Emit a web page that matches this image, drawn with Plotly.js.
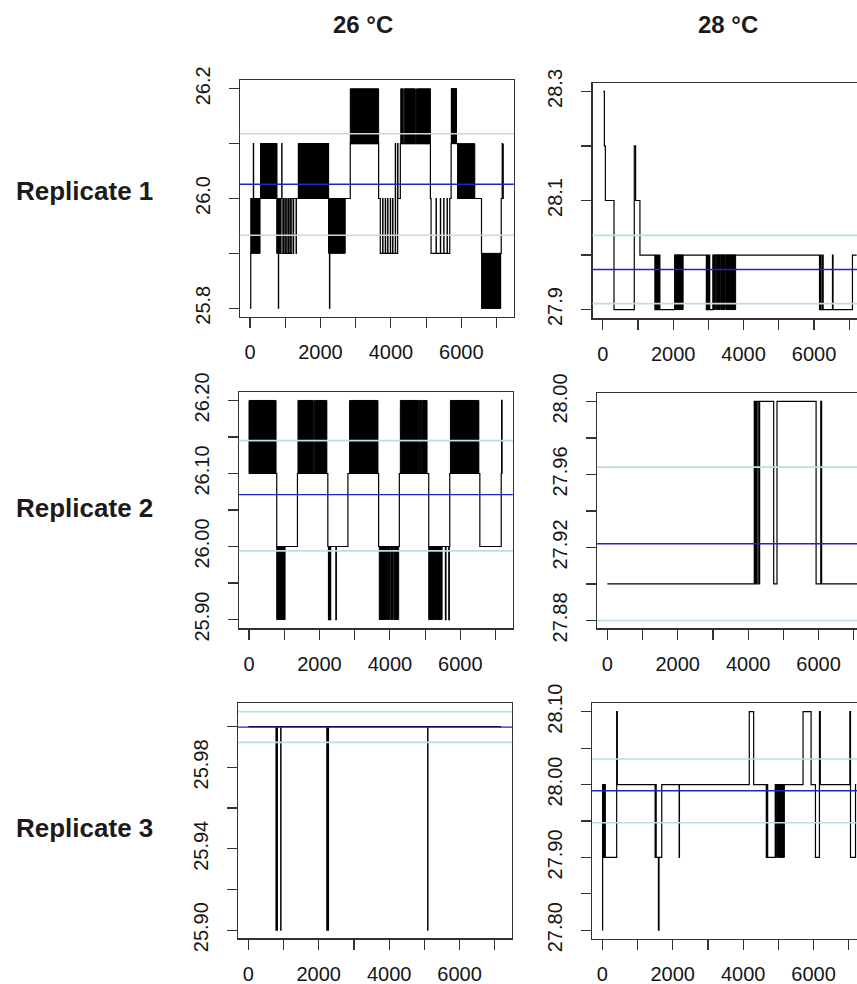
<!DOCTYPE html>
<html><head><meta charset="utf-8">
<script src="https://cdn.plot.ly/plotly-3.0.1.min.js"></script>
<style>html,body{margin:0;padding:0;overflow:hidden;background:#fff}#chart{width:900px;height:984px}</style>
</head><body><div id="chart"></div>
<script>
// ---------------- DATA ----------------
const columnTitles = ['26 °C', '28 °C'];
const rowTitles = ['Replicate 1', 'Replicate 2', 'Replicate 3'];

const xTickVals = [0, 1000, 2000, 3000, 4000, 5000, 6000, 7000];
const xTickText = ['0', '', '2000', '', '4000', '', '6000', ''];

// Replicate 1, 26 °C : step change points (time, temperature)
const r1_26_time = [0, 20, 28, 95, 102, 304, 759, 806, 812, 860, 901, 908, 949, 955, 996, 1003, 1043, 1050, 1091, 1098, 1138, 1145, 1186, 1233, 1238, 1309, 1316, 1375, 2229, 2257, 2265, 2272, 2846, 3652, 3671, 3699, 3766, 3775, 3841, 3850, 3908, 3916, 3984, 3992, 4050, 4058, 4126, 4133, 4192, 4200, 4268, 5122, 5141, 5283, 5290, 5406, 5413, 5501, 5508, 5596, 5603, 5672, 5710, 5720, 5861, 5899, 6383, 6573, 6580, 7114, 7133, 7161, 7170, 7190];
const r1_26_temp = [25.8, 25.9, 26.0, 26.1, 26.0, 26.1, 26.0, 25.8, 25.9, 26.0, 26.1, 25.9, 26.0, 25.9, 26.0, 25.9, 26.0, 25.9, 26.0, 25.9, 26.0, 25.9, 26.0, 25.9, 26.0, 25.9, 26.0, 26.1, 26.0, 25.8, 25.9, 26.0, 26.1, 26.0, 26.0, 25.9, 26.0, 25.9, 26.0, 25.9, 26.0, 25.9, 26.0, 25.9, 26.0, 25.9, 26.1, 25.9, 26.1, 26.0, 26.1, 26.0, 25.9, 26.0, 25.9, 26.0, 25.9, 26.0, 25.9, 26.0, 25.9, 26.0, 26.1, 26.2, 26.1, 26.0, 26.0, 25.9, 25.8, 25.9, 26.0, 26.1, 26.0, 26.1];
// dense oscillation blocks (from, to, low, high)
const r1_26_denseFrom = [28, 304, 759, 1375, 2229, 2846, 4280, 4378, 4705, 4755, 5720, 5899, 6580];
const r1_26_denseTo   = [285, 759, 860, 2229, 2703, 3652, 4350, 4685, 4730, 5122, 5861, 6383, 7114];
const r1_26_denseLow  = [25.9, 26.0, 25.9, 26.0, 25.9, 26.1, 26.1, 26.1, 26.1, 26.1, 26.1, 26.0, 25.8];
const r1_26_denseHigh = [26.0, 26.1, 26.0, 26.1, 26.0, 26.2, 26.2, 26.2, 26.2, 26.2, 26.2, 26.1, 25.9];

// Replicate 1, 28 °C
const r1_28_time = [19, 47, 75, 321, 896, 934, 1057, 1481, 1500, 1528, 1545, 1575, 1595, 1623, 2047, 2943, 2960, 2991, 3010, 3038, 3132, 6156, 6180, 6200, 6241, 6260, 6524, 6540, 7091, 7210];
const r1_28_temp = [28.3, 28.2, 28.1, 27.9, 28.2, 28.1, 28.0, 27.9, 28.0, 27.9, 28.0, 27.9, 28.0, 27.9, 28.0, 27.9, 28.0, 27.9, 28.0, 27.9, 28.0, 27.9, 28.0, 27.9, 28.0, 27.9, 28.0, 27.9, 28.0, 28.0];
const r1_28_denseFrom = [2047, 3132, 3225, 3350, 3500];
const r1_28_denseTo   = [2283, 3200, 3330, 3480, 3774];
const r1_28_denseLow  = [27.9, 27.9, 27.9, 27.9, 27.9];
const r1_28_denseHigh = [28.0, 28.0, 28.0, 28.0, 28.0];

// Replicate 2, 26 °C
const r2_26_time = [0, 787, 1375, 2238, 2257, 2275, 2300, 2318, 2466, 2480, 2808, 3680, 4268, 5103, 5577, 5592, 5672, 5688, 5700, 6554, 7161, 7172, 7185, 7195];
const r2_26_temp = [26.1, 26.0, 26.1, 26.0, 25.9, 26.0, 25.9, 26.0, 25.9, 26.0, 26.1, 26.0, 26.1, 26.0, 25.9, 26.0, 25.9, 26.0, 26.1, 26.0, 26.1, 26.2, 26.1, 26.1];
const r2_26_denseFrom = [0, 787, 1390, 1840, 1890, 2855, 3699, 3930, 4025, 4120, 4297, 4830, 4925, 5103, 5300, 5395, 5719];
const r2_26_denseTo   = [768, 1024, 1820, 1870, 2210, 3661, 3905, 4000, 4095, 4249, 4810, 4905, 5055, 5285, 5380, 5482, 6526];
const r2_26_denseLow  = [26.1, 25.9, 26.1, 26.1, 26.1, 26.1, 25.9, 25.9, 25.9, 25.9, 26.1, 26.1, 26.1, 25.9, 25.9, 25.9, 26.1];
const r2_26_denseHigh = [26.2, 26.0, 26.2, 26.2, 26.2, 26.2, 26.0, 26.0, 26.0, 26.0, 26.2, 26.2, 26.2, 26.0, 26.0, 26.0, 26.2];

// Replicate 2, 28 °C
const r2_28_time = [0, 4173, 4195, 4215, 4235, 4255, 4300, 4325, 4724, 4818, 5928, 6060, 6085, 7210];
const r2_28_temp = [27.9, 28.0, 27.9, 28.0, 27.9, 28.0, 27.9, 28.0, 27.9, 28.0, 27.9, 28.0, 27.9, 27.9];
const r2_28_denseFrom = [];
const r2_28_denseTo   = [];
const r2_28_denseLow  = [];
const r2_28_denseHigh = [];

// Replicate 3, 26 °C
const r3_26_time = [0, 787, 800, 812, 825, 920, 928, 2229, 2250, 2262, 2276, 5093, 5100, 7180];
const r3_26_temp = [26.0, 25.9, 26.0, 25.9, 26.0, 25.9, 26.0, 25.9, 26.0, 25.9, 26.0, 25.9, 26.0, 26.0];
const r3_26_denseFrom = [];
const r3_26_denseTo   = [];
const r3_26_denseLow  = [];
const r3_26_denseHigh = [];

// Replicate 3, 28 °C
const r3_28_time = [0, 9, 28, 40, 55, 70, 85, 408, 427, 1499, 1515, 1530, 1593, 1610, 1688, 2182, 2190, 4173, 4297, 4657, 4670, 4695, 4913, 5169, 5700, 5928, 6052, 6165, 6190, 7028, 7047, 7190, 7210];
const r3_28_temp = [27.8, 28.0, 27.9, 28.0, 27.9, 28.0, 27.9, 28.1, 28.0, 27.9, 28.0, 27.9, 27.8, 27.9, 28.0, 27.9, 28.0, 28.1, 28.0, 27.9, 28.0, 27.9, 28.0, 28.0, 28.1, 28.0, 27.9, 28.1, 28.0, 28.1, 27.9, 28.0, 28.0];
const r3_28_denseFrom = [4913, 4975];
const r3_28_denseTo   = [4950, 5169];
const r3_28_denseLow  = [27.9, 27.9];
const r3_28_denseHigh = [28.0, 28.0];

// mean and mean ± sd lines, panel order r1_26, r1_28, r2_26, r2_28, r3_26, r3_28
const meanTemp  = [26.026, 27.9735, 26.071, 27.922, 25.9998, 27.9915];
const sdLowTemp = [25.933, 27.911, 25.994, 27.880, 25.9923, 27.9475];
const sdHighTemp= [26.118, 28.036, 26.145, 27.964, 26.0074, 28.035];

// y tick values / labels
const r1_26_yTicks = [25.8, 25.9, 26.0, 26.1, 26.2];
const r1_26_yText  = ['25.8', '', '26.0', '', '26.2'];
const r1_28_yTicks = [27.9, 28.0, 28.1, 28.2, 28.3];
const r1_28_yText  = ['27.9', '', '28.1', '', '28.3'];
const r2_26_yTicks = [25.9, 25.95, 26.0, 26.05, 26.1, 26.15, 26.2];
const r2_26_yText  = ['25.90', '', '26.00', '', '26.10', '', '26.20'];
const r2_28_yTicks = [27.88, 27.90, 27.92, 27.94, 27.96, 27.98, 28.00];
const r2_28_yText  = ['27.88', '', '27.92', '', '27.96', '', '28.00'];
const r3_26_yTicks = [25.90, 25.92, 25.94, 25.96, 25.98, 26.00];
const r3_26_yText  = ['25.90', '', '25.94', '', '25.98', ''];
const r3_28_yTicks = [27.80, 27.85, 27.90, 27.95, 28.00, 28.05, 28.10];
const r3_28_yText  = ['27.80', '', '27.90', '', '28.00', '', '28.10'];

// ---------------- LAYOUT ----------------
const W = 900, H = 984, PW = 274;
const panels = [
  {t: r1_26_time, v: r1_26_temp, df: r1_26_denseFrom, dt: r1_26_denseTo, dl: r1_26_denseLow, dh: r1_26_denseHigh, yt: r1_26_yTicks, ytt: r1_26_yText, left: 239.8, top: 80, bottom: 317, yr: [25.784, 26.216]},
  {t: r1_28_time, v: r1_28_temp, df: r1_28_denseFrom, dt: r1_28_denseTo, dl: r1_28_denseLow, dh: r1_28_denseHigh, yt: r1_28_yTicks, ytt: r1_28_yText, left: 592.5, top: 82.7, bottom: 318.3, yr: [27.884, 28.316]},
  {t: r2_26_time, v: r2_26_temp, df: r2_26_denseFrom, dt: r2_26_denseTo, dl: r2_26_denseLow, dh: r2_26_denseHigh, yt: r2_26_yTicks, ytt: r2_26_yText, left: 238.8, top: 391.7, bottom: 628.3, yr: [25.888, 26.212]},
  {t: r2_28_time, v: r2_28_temp, df: r2_28_denseFrom, dt: r2_28_denseTo, dl: r2_28_denseLow, dh: r2_28_denseHigh, yt: r2_28_yTicks, ytt: r2_28_yText, left: 597.1, top: 392.7, bottom: 628.3, yr: [27.8757, 28.0048]},
  {t: r3_26_time, v: r3_26_temp, df: r3_26_denseFrom, dt: r3_26_denseTo, dl: r3_26_denseLow, dh: r3_26_denseHigh, yt: r3_26_yTicks, ytt: r3_26_yText, left: 238.1, top: 702.7, bottom: 938.3, yr: [25.896, 26.0118]},
  {t: r3_28_time, v: r3_28_temp, df: r3_28_denseFrom, dt: r3_28_denseTo, dl: r3_28_denseLow, dh: r3_28_denseHigh, yt: r3_28_yTicks, ytt: r3_28_yText, left: 592.1, top: 703.3, bottom: 939, yr: [27.788, 28.1115]}
];

const tickFont = {family: 'Arial, "Liberation Sans", sans-serif', size: 20, color: '#161616'};
const boxColor = '#333';
const traces = [];
const layout = {
  width: W, height: H, margin: {l: 0, r: 0, t: 0, b: 0},
  paper_bgcolor: '#fff', plot_bgcolor: '#fff', showlegend: false,
  shapes: [], annotations: []
};

panels.forEach((p, i) => {
  const n = i + 1;
  const xa = n === 1 ? 'xaxis' : 'xaxis' + n;
  const ya = n === 1 ? 'yaxis' : 'yaxis' + n;
  const xr = n === 1 ? 'x' : 'x' + n;
  const yr = n === 1 ? 'y' : 'y' + n;
  layout[xa] = {
    domain: [p.left / W, (p.left + PW) / W], anchor: yr, range: [-290, 7490],
    showline: true, mirror: true, linecolor: boxColor, linewidth: 1.2,
    ticks: 'outside', ticklen: 10, tickwidth: 1.2, tickcolor: boxColor,
    tickvals: xTickVals, ticktext: xTickText, tickfont: tickFont,
    ticklabelstandoff: 7, showgrid: false, zeroline: false, fixedrange: true
  };
  layout[ya] = {
    domain: [1 - p.bottom / H, 1 - p.top / H], anchor: xr, range: p.yr,
    showline: true, mirror: true, linecolor: boxColor, linewidth: 1.2,
    ticks: 'outside', ticklen: 10, tickwidth: 1.2, tickcolor: boxColor,
    tickvals: p.yt, ticktext: p.ytt, tickfont: tickFont, tickangle: -90,
    ticklabelstandoff: 11, showgrid: false, zeroline: false, fixedrange: true
  };
  // dense oscillation blocks
  if (p.df.length) {
    const bx = [], by = [];
    p.df.forEach((f, k) => {
      bx.push(f, p.dt[k], p.dt[k], f, f, null);
      by.push(p.dl[k], p.dl[k], p.dh[k], p.dh[k], p.dl[k], null);
    });
    traces.push({x: bx, y: by, xaxis: xr, yaxis: yr, mode: 'lines', fill: 'toself',
      fillcolor: '#000', line: {color: '#000', width: 1}, hoverinfo: 'skip'});
  }
  traces.push({x: p.t, y: p.v, xaxis: xr, yaxis: yr, mode: 'lines',
    line: {shape: 'hv', color: '#000', width: 1.2}, hoverinfo: 'skip'});
  const hline = (val, color, w) => ({type: 'line', xref: xr + ' domain', x0: 0, x1: 1,
    yref: yr, y0: val, y1: val, line: {color: color, width: w}, layer: 'above'});
  layout.shapes.push(hline(sdHighTemp[i], '#bcdde6', 1.6));
  layout.shapes.push(hline(sdLowTemp[i], '#bcdde6', 1.6));
  layout.shapes.push(hline(meanTemp[i], '#2222c8', 1.4));
});

const headFont = {family: 'Arial, "Liberation Sans", sans-serif', size: 24, color: '#1b1b1b'};
const colCenters = [363, 728];
columnTitles.forEach((txt, k) => {
  layout.annotations.push({text: '<b>' + txt + '</b>', xref: 'paper', yref: 'paper',
    x: colCenters[k] / W, y: 1 - 24 / H, xanchor: 'center', yanchor: 'middle',
    showarrow: false, font: headFont});
});
const rowCenters = [191, 508, 828];
rowTitles.forEach((txt, k) => {
  layout.annotations.push({text: '<b>' + txt + '</b>', xref: 'paper', yref: 'paper',
    x: 14 / W, y: 1 - rowCenters[k] / H, xanchor: 'left', yanchor: 'middle',
    showarrow: false, font: {family: headFont.family, size: 26, color: '#1b1b1b'}});
});

Plotly.newPlot('chart', traces, layout, {staticPlot: true, displayModeBar: false});
</script></body></html>
